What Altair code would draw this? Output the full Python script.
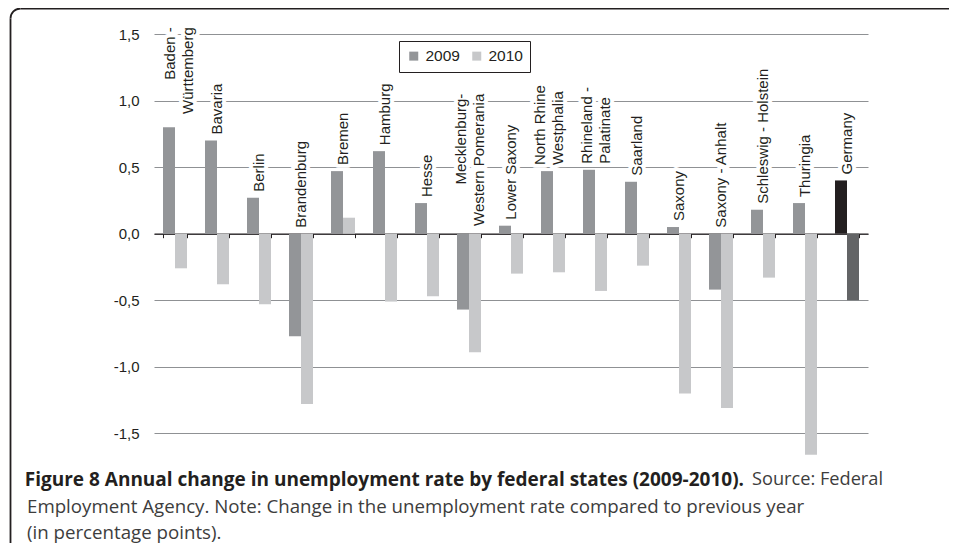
import altair as alt
import pandas as pd

# ---------------- data ----------------
states = ["Baden-Württemberg", "Bavaria", "Berlin", "Brandenburg", "Bremen", "Hamburg",
          "Hesse", "Mecklenburg-Western Pomerania", "Lower Saxony", "North Rhine Westphalia",
          "Rhineland-Palatinate", "Saarland", "Saxony", "Saxony-Anhalt",
          "Schleswig-Holstein", "Thuringia", "Germany"]
labels = ["Baden -\nWürttemberg", "Bavaria", "Berlin", "Brandenburg", "Bremen", "Hamburg",
          "Hesse", "Mecklenburg-\nWestern  Pomerania", "Lower Saxony", "North Rhine\nWestphalia",
          "Rhineland -\nPalatinate", "Saarland", "Saxony", "Saxony - Anhalt",
          "Schleswig - Holstein", "Thuringia", "Germany"]
v2009 = [0.80, 0.70, 0.27, -0.77, 0.47, 0.62, 0.23, -0.57, 0.06, 0.47, 0.48, 0.39, 0.05,
         -0.42, 0.18, 0.23, 0.40]
v2010 = [-0.26, -0.38, -0.53, -1.28, 0.12, -0.51, -0.47, -0.89, -0.30, -0.29, -0.43, -0.24,
         -1.20, -1.31, -0.33, -1.66, -0.50]
years = ["2009", "2010"]
y_ticks = [-1.5, -1.0, -0.5, 0.0, 0.5, 1.0, 1.5]

caption_bold = "Figure 8 Annual change in unemployment rate by federal states (2009-2010)."
caption_rest = "Source: Federal"
caption_line2 = "Employment Agency. Note: Change in the unemployment rate compared to previous year"
caption_line3 = "(in percentage points)."

# ---------------- tables ----------------
rows = []
for s, a, b in zip(states, v2009, v2010):
    pre = "G" if s == "Germany" else ""
    rows.append({"state": s, "year": "2009", "key": pre + "2009", "value": a})
    rows.append({"state": s, "year": "2010", "key": pre + "2010", "value": b})
bars_df = pd.DataFrame(rows)

lab_df = pd.DataFrame({"state": states, "label": labels,
                       "top": [max(a, b, 0) for a, b in zip(v2009, v2010)]})

W, H = 714, 426
DARK = "#231f20"
FONT = "Liberation Sans"
CAPFONT = "Open Sans"
CAPSIZE = 18.7

xscale = alt.Scale(domain=states, paddingInner=18 / 42, paddingOuter=9 / 42)
yscale = alt.Scale(domain=[-1.7, 1.5], nice=False, zero=False)

y0 = H * 1.5 / 3.2

bars = alt.Chart(bars_df).mark_bar(size=12).encode(
    x=alt.X("state:N", scale=xscale, sort=states, title=None,
            axis=alt.Axis(labels=False, tickBand="extent", tickSize=4, tickColor=DARK,
                          domainColor=DARK, domainWidth=1.2, offset=-(H - y0), grid=False,
                          orient="bottom")),
    xOffset=alt.XOffset("year:N", sort=years, scale=alt.Scale(paddingInner=0, paddingOuter=0)),
    y=alt.Y("value:Q", scale=yscale, title=None,
            axis=alt.Axis(values=y_ticks, domain=False, ticks=False, labelPadding=15,
                          labelFontSize=15, labelFont=FONT, labelColor=DARK,
                          gridColor="#8f9194", gridWidth=1,
                          labelExpr="(datum.value<0?'-':'') + replace(format(abs(datum.value),'.1f'),'.',',')")),
    color=alt.Color("key:N",
                    scale=alt.Scale(domain=["2009", "2010", "G2009", "G2010"],
                                    range=["#939598", "#c7c8ca", DARK, "#636466"]),
                    legend=alt.Legend(values=["2009", "2010"], orient="none", legendX=245,
                                      legendY=7, direction="horizontal", title=None,
                                      symbolType="square", symbolSize=81, symbolStrokeWidth=0,
                                      labelFontSize=15.5, labelFont=FONT, labelColor=DARK,
                                      strokeColor=DARK, fillColor="white", padding=7,
                                      columnPadding=9, labelOffset=4)),
)


def label_layers(names, align, dx, dy):
    sub = lab_df[lab_df["state"].isin(names)]
    common = dict(angle=270, align=align, baseline="middle", dx=dx, dy=dy, lineBreak="\n",
                  fontSize=15, font=FONT, lineHeight=18)
    enc = dict(x=alt.X("state:N", scale=xscale, sort=states),
               y=alt.Y("top:Q", scale=yscale), text="label:N")
    halo = alt.Chart(sub).mark_text(stroke="white", strokeWidth=8, strokeJoin="round",
                                    color="white", **common).encode(**enc)
    txt = alt.Chart(sub).mark_text(color=DARK, **common).encode(**enc)
    return [halo, txt]


single = [s for s, l in zip(states, labels) if "\n" not in l]
lab_layers = (label_layers(single, "left", 6, 0)
              + label_layers(["North Rhine Westphalia"], "left", 6, -13)
              + label_layers(["Rhineland-Palatinate"], "left", 6, -8)
              + label_layers(["Baden-Württemberg"], "right", 100, -5)
              + label_layers(["Mecklenburg-Western Pomerania"], "right", 140, -8))

one = pd.DataFrame({"a": [0]})
cap1 = alt.Chart(one).mark_text(align="right", baseline="middle", fontSize=19.0,
                                font=CAPFONT, fontWeight="bold", color=DARK).encode(
    x=alt.value(590), y=alt.value(446), text=alt.value(caption_bold))
cap1b = alt.Chart(one).mark_text(align="left", baseline="middle", fontSize=18.2,
                                 font=CAPFONT, color="#3d3d3d").encode(
    x=alt.value(598), y=alt.value(446), text=alt.value(caption_rest))
cap2 = alt.Chart(one).mark_text(align="left", baseline="middle", fontSize=CAPSIZE,
                                font=CAPFONT, color="#3d3d3d").encode(
    x=alt.value(-127), y=alt.value(472.5), text=alt.value(caption_line2))
cap3 = alt.Chart(one).mark_text(align="left", baseline="middle", fontSize=CAPSIZE,
                                font=CAPFONT, color="#3d3d3d").encode(
    x=alt.value(-127), y=alt.value(499), text=alt.value(caption_line3))

# frame: top edge, left edge and rounded top-left corner (kept inside the svg)
frame_top = alt.Chart(one).mark_rule(color=DARK, strokeWidth=1.8).encode(
    x=alt.value(-133.5), x2=alt.value(795), y=alt.value(-25.5))
frame_left = alt.Chart(one).mark_rule(color=DARK, strokeWidth=1.8).encode(
    x=alt.value(-143.5), y=alt.value(-15.5), y2=alt.value(509))
frame_corner = alt.Chart(one).mark_arc(innerRadius=9.1, outerRadius=10.9, theta=4.71239,
                                       theta2=6.28319, color=DARK).encode(
    x=alt.value(-133.5), y=alt.value(-15.5))

chart = alt.layer(bars, *lab_layers, cap1, cap1b, cap2, cap3,
                  frame_top, frame_left, frame_corner).properties(
    width=W, height=H,
    padding={"left": 146, "top": 26, "right": 81, "bottom": 83},
    autosize=alt.AutoSizeParams(type="none"),
).configure_view(stroke=None)

chart.save("out.html", embed_options={"renderer": "svg", "actions": False})
